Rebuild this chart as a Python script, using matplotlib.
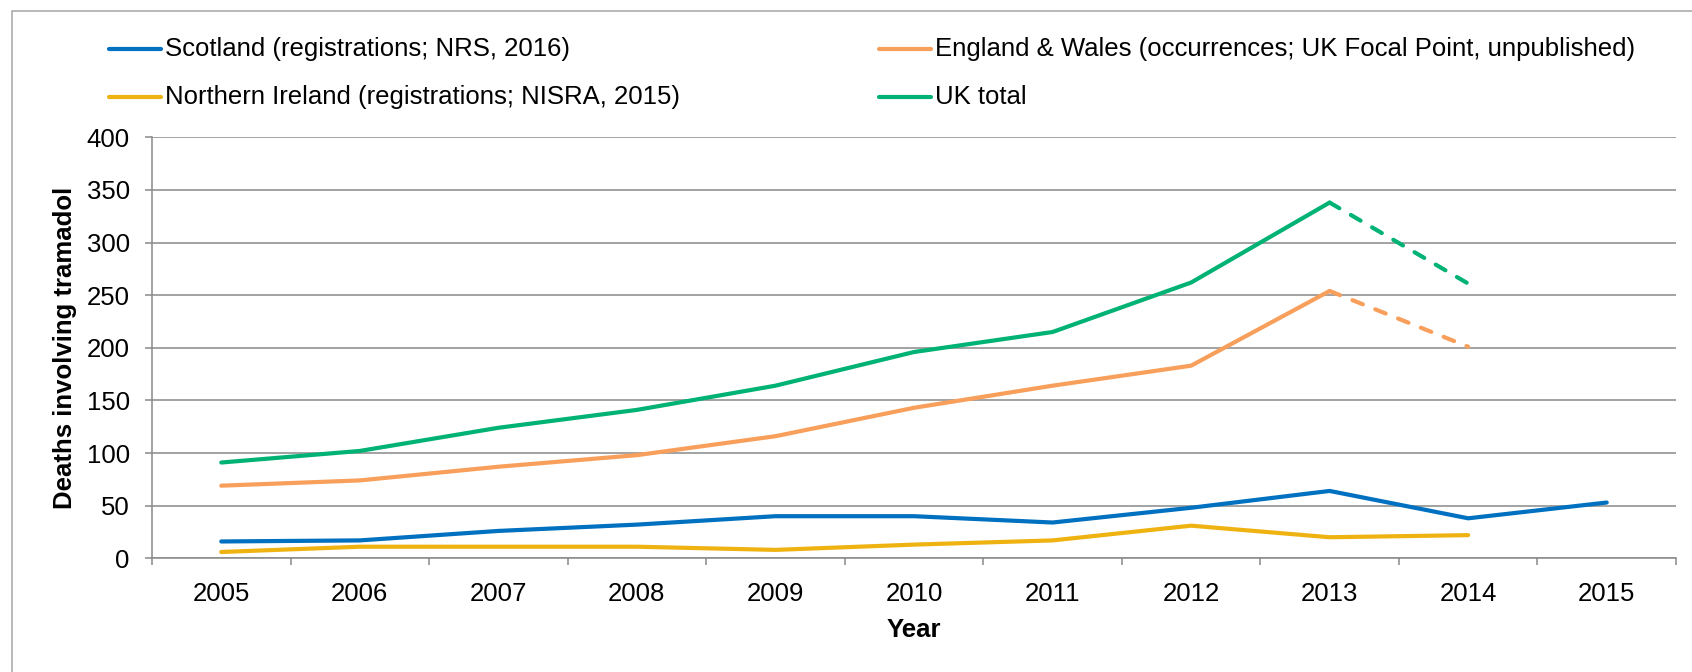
import matplotlib
matplotlib.use("Agg")
import matplotlib.pyplot as plt
from matplotlib.lines import Line2D
from matplotlib.patches import Rectangle
import numpy as np

plt.rcParams['font.family'] = ['Liberation Sans', 'DejaVu Sans']

# Data: deaths involving tramadol by UK nation
years = ['2005', '2006', '2007', '2008', '2009', '2010',
         '2011', '2012', '2013', '2014', '2015']
scotland = [16, 17, 26, 32, 40, 40, 34, 48, 64, 38, 53]
england_wales = [69, 74, 87, 98, 116, 143, 164, 183, 254, 201]
northern_ireland = [6, 11, 11, 11, 8, 13, 17, 31, 20, 22]
uk_total = [91, 102, 124, 141, 164, 196, 215, 262, 338, 261]

labels = ['Scotland (registrations; NRS, 2016)',
          'England & Wales (occurrences; UK Focal Point, unpublished)',
          'Northern Ireland (registrations; NISRA, 2015)',
          'UK total']

c_blue = '#0070C0'
c_orange = '#F79F5B'
c_yellow = '#EEB211'
c_green = '#00B274'
grid_c = '#898989'

W, H = 1692, 672
fig = plt.figure(figsize=(W / 100, H / 100), dpi=100)
ax = fig.add_axes([152 / W, 1 - 558.3 / H, (1676 - 152) / W, (558.3 - 137.3) / H])

lw = 3.0
x = np.arange(len(years))
line_kw = dict(lw=lw, solid_capstyle='round', solid_joinstyle='round')
dash_kw = dict(lw=lw, dashes=(2.7, 3.2), dash_capstyle='round', dash_joinstyle='round')

# Northern Ireland and Scotland: all solid
ax.plot(x[:len(northern_ireland)], northern_ireland, color=c_yellow, **line_kw)
ax.plot(x[:len(scotland)], scotland, color=c_blue, **line_kw)

# England & Wales and UK total: provisional final year drawn dashed
for series, col in ((england_wales, c_orange), (uk_total, c_green)):
    n = len(series)
    ax.plot(x[:n - 1], series[:n - 1], color=col, **line_kw)
    ax.plot(x[n - 2:n], series[n - 2:n], color=col, **dash_kw)

ax.set_xlim(-0.5, len(years) - 0.5)
ax.set_ylim(0, 400)
ax.set_yticks(np.arange(0, 401, 50))
ax.set_xticks(x)
ax.set_xticklabels(years)
ax.set_xticks(np.arange(-0.5, len(years), 1.0), minor=True)

ax.yaxis.grid(True, color=grid_c, lw=1.1)
ax.set_axisbelow(True)
for s in ('top', 'right'):
    ax.spines[s].set_visible(False)
for s in ('left', 'bottom'):
    ax.spines[s].set_color(grid_c)
    ax.spines[s].set_linewidth(1.1)

ax.tick_params(axis='x', which='major', length=0, pad=17, labelsize=18.5)
ax.tick_params(axis='x', which='minor', length=5, width=1.1, color=grid_c, direction='out')
ax.tick_params(axis='y', length=5, width=1.1, color=grid_c, pad=11, labelsize=18.5)

ax.set_xlabel('Year', fontsize=18.5, fontweight='bold', labelpad=9)
ax.set_ylabel('Deaths involving tramadol', fontsize=18.5, fontweight='bold')
ax.yaxis.set_label_coords(-0.049, 0.5)

# Legend drawn in figure pixel space
entries = [
    (labels[0], c_blue, 107, 49),
    (labels[1], c_orange, 877, 49),
    (labels[2], c_yellow, 107, 97),
    (labels[3], c_green, 877, 97),
]
for text, col, x0, y0 in entries:
    yf = 1 - y0 / H
    fig.add_artist(Line2D([(x0 + 2) / W, (x0 + 54) / W], [yf, yf], color=col,
                          lw=lw, solid_capstyle='round', transform=fig.transFigure))
    fig.text((x0 + 58) / W, yf, text, fontsize=18.5, ha='left', va='center')

# Chart frame
fig.add_artist(Rectangle((12 / W, -0.5), 2.0, (1 - 11 / H) + 0.5, fill=False,
                         edgecolor='#A6A6A6', lw=1.1, transform=fig.transFigure))

fig.savefig('out.png', dpi=100)
